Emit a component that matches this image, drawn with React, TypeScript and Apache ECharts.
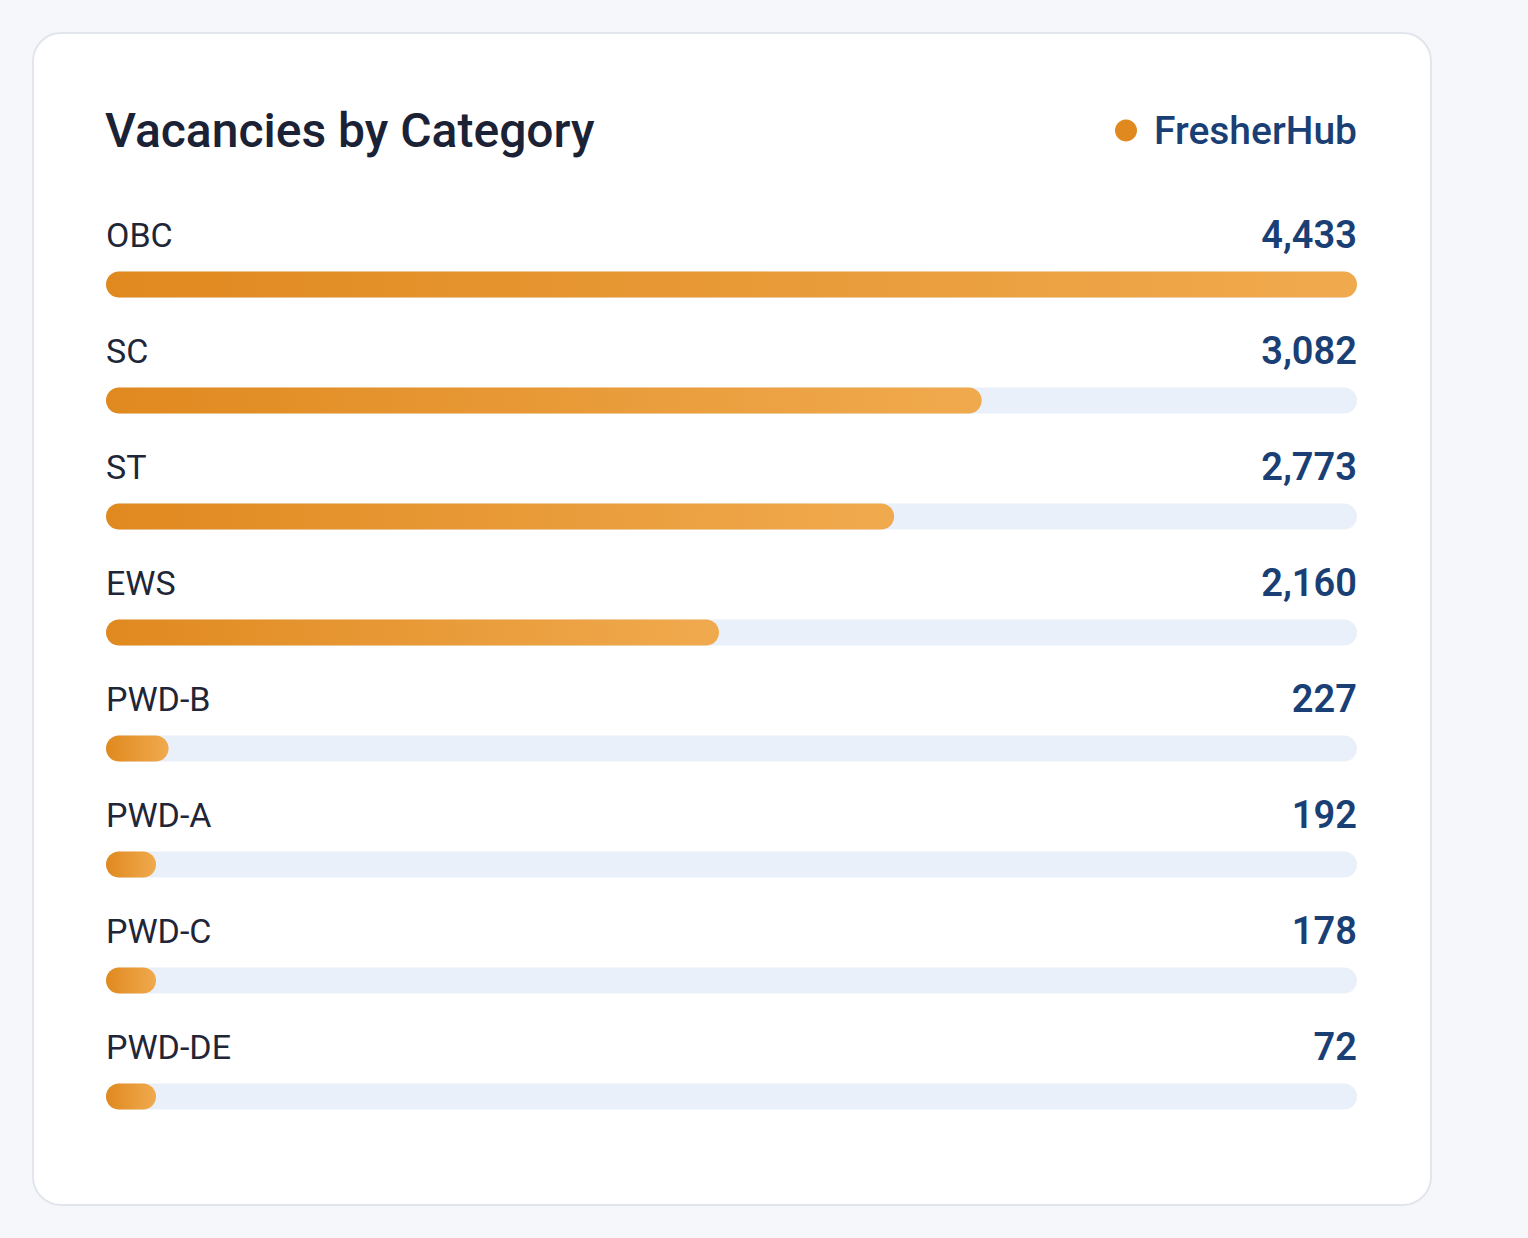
import React, { useEffect, useRef } from "react";
import * as echarts from "echarts";

const categories = ["OBC", "SC", "ST", "EWS", "PWD-B", "PWD-A", "PWD-C", "PWD-DE"];
const vacancies = [4433, 3082, 2773, 2160, 227, 192, 178, 72];
const seriesName = "FresherHub";
const titleText = "Vacancies by Category";

const FONT = "Roboto, 'Noto Sans', sans-serif";

export default function App() {
  const ref = useRef<HTMLDivElement>(null);
  useEffect(() => {
    document.body.style.margin = "0";
    document.body.style.background = "#f5f7fb";
    const chart = echarts.init(ref.current!, undefined, { renderer: "svg" });
    const maxV = Math.max(...vacancies);
    const pct = vacancies.map((v) => Math.max(Math.round((v / maxV) * 100), 4));
    const grad = new echarts.graphic.LinearGradient(0, 0, 1, 0, [
      { offset: 0, color: "#e0891f" },
      { offset: 1, color: "#f0aa4e" },
    ]);
    chart.setOption({
      animation: false,
      backgroundColor: "#f5f7fb",
      graphic: [
        {
          type: "rect",
          z: -10,
          shape: { x: 33, y: 33, width: 1398, height: 1172, r: 28 },
          style: { fill: "#ffffff", stroke: "#e2e5ec", lineWidth: 2 },
          silent: true,
        },
      ],
      title: {
        text: titleText,
        left: 100,
        top: 101,
        textStyle: { fontFamily: FONT, fontSize: 48, fontWeight: 500, color: "#1b2235" },
      },
      legend: {
        right: 166,
        top: 106,
        icon: "circle",
        itemWidth: 22,
        itemHeight: 22,
        data: [{ name: seriesName, itemStyle: { color: "#e0891f" } }],
        textStyle: { fontFamily: FONT, fontSize: 39, fontWeight: 500, color: "#1a3f75", padding: [0, 0, 0, 12] },
        selectedMode: false,
      },
      grid: { left: 106, right: 171, top: 226.5, height: 928, containLabel: false },
      xAxis: { type: "value", min: 0, max: 100, show: false },
      yAxis: {
        type: "category",
        data: categories,
        inverse: true,
        show: false,
      },
      series: [
        {
          type: "bar",
          name: "track",
          silent: true,
          barWidth: 26,
          barGap: "-100%",
          data: categories.map(() => 100),
          itemStyle: { color: "#e9f0fa", borderRadius: 13 },
          label: {
            show: true,
            position: ["100%", -37],
            align: "right",
            verticalAlign: "middle",
            formatter: (p: any) => vacancies[p.dataIndex].toLocaleString("en-US"),
            fontFamily: FONT,
            fontSize: 38,
            fontWeight: 600,
            color: "#1a3f75",
          },
        },
        {
          type: "bar",
          name: seriesName,
          silent: true,
          barWidth: 26,
          barGap: "-100%",
          data: pct,
          itemStyle: { color: grad, borderRadius: 13 },
          label: {
            show: true,
            position: [0, -37],
            align: "left",
            verticalAlign: "middle",
            formatter: (p: any) => categories[p.dataIndex],
            fontFamily: FONT,
            fontSize: 34,
            fontWeight: 400,
            color: "#1f2638",
          },
        },
      ],
    });
    return () => chart.dispose();
  }, []);
  return <div ref={ref} style={{ width: 1528, height: 1238 }} />;
}
